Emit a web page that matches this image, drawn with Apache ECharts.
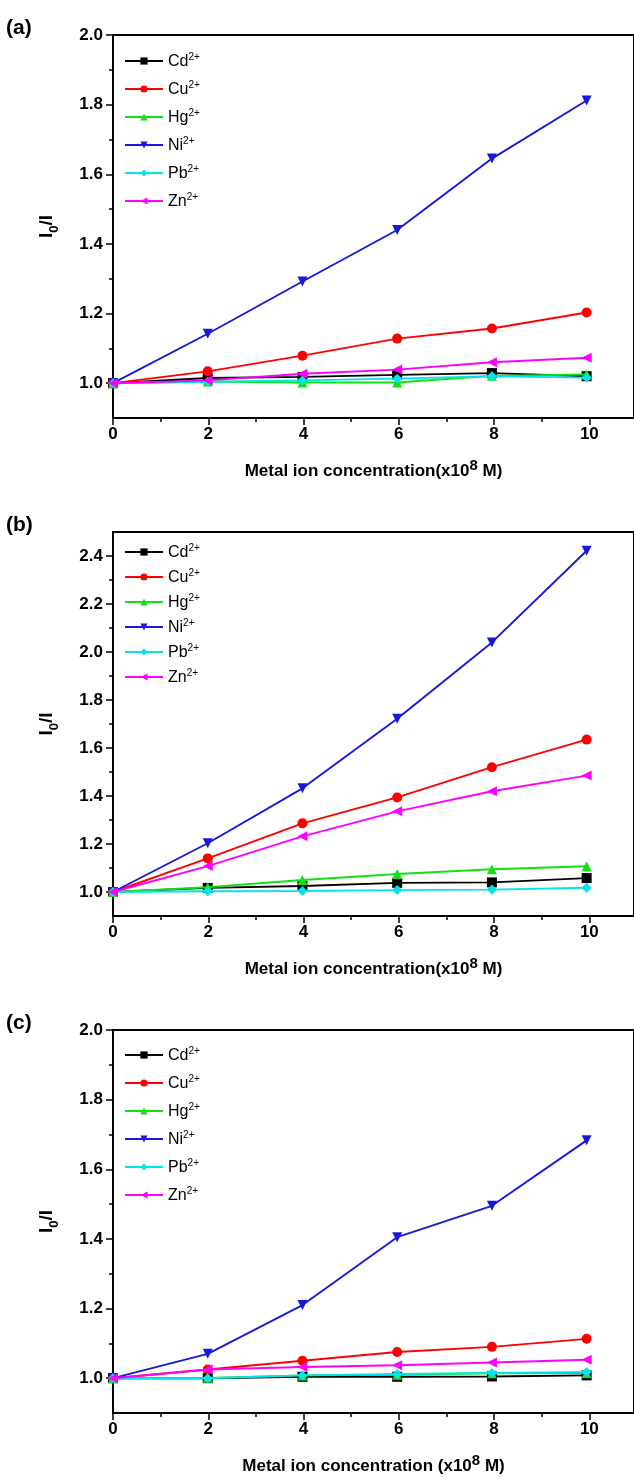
<!DOCTYPE html>
<html>
<head>
<meta charset="utf-8">
<script src="https://cdn.jsdelivr.net/npm/echarts@6/dist/echarts.min.js"></script>
<style>
  html, body { margin: 0; padding: 0; background: #fff; }
  #chart { width: 634px; height: 1477px; }
</style>
</head>
<body>
<div id="chart"></div>
<script>
// metal ion concentration (x10^8 M)
const conc = [0, 2, 4, 6, 8, 10];
const ions = ['Cd', 'Cu', 'Hg', 'Ni', 'Pb', 'Zn'];

// I0/I, panel (a)
const cdA = [1.0, 1.015, 1.018, 1.024, 1.029, 1.020];
const cuA = [1.0, 1.034, 1.079, 1.128, 1.157, 1.203];
const hgA = [1.0, 1.005, 1.002, 1.002, 1.021, 1.025];
const niA = [1.0, 1.142, 1.292, 1.440, 1.645, 1.812];
const pbA = [1.0, 1.004, 1.008, 1.013, 1.020, 1.016];
const znA = [1.0, 1.008, 1.027, 1.039, 1.060, 1.073];

// I0/I, panel (b)
const cdB = [1.0, 1.017, 1.025, 1.038, 1.040, 1.058];
const cuB = [1.0, 1.140, 1.286, 1.394, 1.520, 1.635];
const hgB = [1.0, 1.020, 1.050, 1.075, 1.095, 1.107];
const niB = [1.0, 1.203, 1.432, 1.722, 2.040, 2.422];
const pbB = [1.0, 1.003, 1.004, 1.008, 1.010, 1.018];
const znB = [1.0, 1.108, 1.232, 1.336, 1.420, 1.485];

// I0/I, panel (c)
const cdC = [1.0, 1.000, 1.004, 1.004, 1.005, 1.008];
const cuC = [1.0, 1.025, 1.050, 1.075, 1.090, 1.113];
const hgC = [1.0, 1.001, 1.008, 1.010, 1.014, 1.015];
const niC = [1.0, 1.070, 1.210, 1.405, 1.495, 1.683];
const pbC = [1.0, 1.000, 1.008, 1.012, 1.015, 1.018];
const znC = [1.0, 1.025, 1.032, 1.037, 1.045, 1.053];

const FONT = '"Liberation Sans", Arial, sans-serif';
const LEFT = 113, W = 524, UNIT = W / 11;
const colors = ['#000000', '#ff0000', '#12e012', '#1818dc', '#00e4ee', '#ff00ff'];
const symbols = ['rect', 'circle', 'triangle', 'triangle', 'diamond', 'triangle'];
const rotations = [0, 0, 0, 180, 0, 90];

const panels = [
  { key: 'a', tag: '(a)', T: 35, B: 418, M: 2.0, L: 2.0, legTop: 52, legGap: 10,
    xname: 'Metal ion concentration(x10', data: [cdA, cuA, hgA, niA, pbA, znA] },
  { key: 'b', tag: '(b)', T: 532, B: 916, M: 2.5, L: 2.4, legTop: 543, legGap: 7,
    xname: 'Metal ion concentration(x10', data: [cdB, cuB, hgB, niB, pbB, znB] },
  { key: 'c', tag: '(c)', T: 1030, B: 1413, M: 2.0, L: 2.0, legTop: 1046, legGap: 10,
    xname: 'Metal ion concentration (x10', data: [cdC, cuC, hgC, niC, pbC, znC] }
];

const tickStyle = { color: '#000', width: 1.5 };
const title = [], grid = [], xAxis = [], yAxis = [], legend = [], series = [];

panels.forEach((p, i) => {
  const H = p.B - p.T;
  const span = p.M - 0.9;

  title.push({ text: p.tag, left: 6, top: p.T - 17, padding: 0,
    textStyle: { fontSize: 21, fontWeight: 'bold', fontFamily: FONT, color: '#000' } });

  // plot frame + data grid (right edge runs past the canvas, as in the source)
  grid.push({ left: LEFT, top: p.T, right: 634 - LEFT - W, height: H, show: true,
    borderColor: '#000', borderWidth: 2 });
  // grid only used for ticks/labels (1.0 .. L, 0 .. 10)
  grid.push({ left: LEFT, top: p.T + H * (p.M - p.L) / span, width: UNIT * 10,
    height: H * (p.L - 1.0) / span });

  xAxis.push({ gridIndex: 2 * i, type: 'value', min: 0, max: 11,
    axisLine: { show: false }, axisTick: { show: false }, axisLabel: { show: false },
    splitLine: { show: false },
    name: `{t|${p.xname}}{s|8}{t| M)}`, nameLocation: 'middle', nameGap: 40,
    nameTextStyle: { rich: {
      t: { fontSize: 17, fontWeight: 'bold', fontFamily: FONT, color: '#000', lineHeight: 22, verticalAlign: 'bottom' },
      s: { fontSize: 15, fontWeight: 'bold', fontFamily: FONT, color: '#000', lineHeight: 22, verticalAlign: 'top' }
    } } });
  xAxis.push({ gridIndex: 2 * i + 1, type: 'value', min: 0, max: 10, interval: 2,
    offset: H * 0.1 / span,
    axisLine: { show: false },
    axisTick: { show: true, length: 7, lineStyle: tickStyle },
    minorTick: { show: true, splitNumber: 2, length: 4, lineStyle: tickStyle },
    axisLabel: { fontSize: 17, fontWeight: 'bold', fontFamily: FONT, color: '#000', margin: 8 },
    splitLine: { show: false } });

  yAxis.push({ gridIndex: 2 * i, type: 'value', min: 0.9, max: p.M,
    axisLine: { show: false }, axisTick: { show: false }, axisLabel: { show: false },
    splitLine: { show: false },
    name: '{t|I}{b|0}{t|/I}', nameLocation: 'middle', nameGap: 52,
    nameTextStyle: { rich: {
      t: { fontSize: 19, fontWeight: 'bold', fontFamily: FONT, color: '#000', lineHeight: 24, verticalAlign: 'top' },
      b: { fontSize: 13, fontWeight: 'bold', fontFamily: FONT, color: '#000', lineHeight: 24, verticalAlign: 'bottom' }
    } } });
  yAxis.push({ gridIndex: 2 * i + 1, type: 'value', min: 1.0, max: p.L, interval: 0.2,
    axisLine: { show: false },
    axisTick: { show: true, length: 7, lineStyle: tickStyle },
    minorTick: { show: true, splitNumber: 2, length: 4, lineStyle: tickStyle },
    axisLabel: { fontSize: 17, fontWeight: 'bold', fontFamily: FONT, color: '#000', margin: 10,
      formatter: v => v.toFixed(1) },
    splitLine: { show: false } });

  legend.push({
    data: ions.map(n => p.key + n), orient: 'vertical', left: 124, top: p.legTop,
    itemWidth: 38, itemHeight: 9, itemGap: p.legGap, padding: 0,
    formatter: name => `{e|${name.slice(1)}}{s|2+}`,
    textStyle: { rich: {
      e: { fontSize: 16, fontFamily: FONT, color: '#000', lineHeight: 18, verticalAlign: 'bottom' },
      s: { fontSize: 10, fontFamily: FONT, color: '#000', lineHeight: 18, verticalAlign: 'top' }
    } }
  });

  ions.forEach((ion, k) => {
    series.push({
      name: p.key + ion, type: 'line', xAxisIndex: 2 * i, yAxisIndex: 2 * i,
      data: conc.map((x, j) => [x, p.data[k][j]]),
      symbol: symbols[k], symbolRotate: rotations[k], symbolSize: 10,
      itemStyle: { color: colors[k] },
      lineStyle: { color: colors[k], width: 1.9 },
      z: 2 + k
    });
  });
});

const chart = echarts.init(document.getElementById('chart'));
chart.setOption({
  animation: false,
  backgroundColor: '#fff',
  title, grid, xAxis, yAxis, legend, series
});
</script>
</body>
</html>
